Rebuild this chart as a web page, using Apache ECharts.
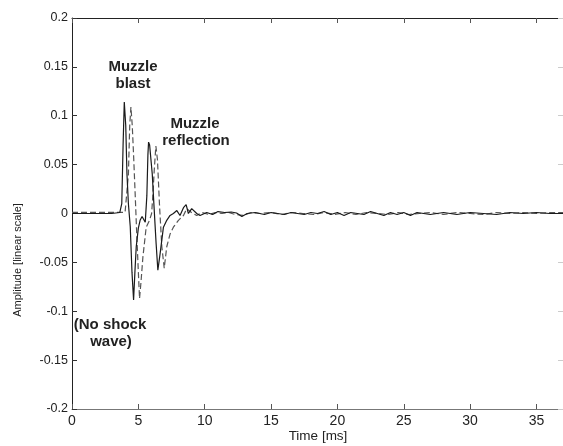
<!DOCTYPE html>
<html>
<head>
<meta charset="utf-8">
<script src="https://cdn.jsdelivr.net/npm/echarts@6/dist/echarts.min.js"></script>
<style>
html,body{margin:0;padding:0;background:#fff;}
#chart{width:563px;height:446px;}
</style>
</head>
<body>
<div id="chart"></div>
<script>
// Tick values
var xTicks = [0, 5, 10, 15, 20, 25, 30, 35];
var yTicks = [-0.2, -0.15, -0.1, -0.05, 0, 0.05, 0.1, 0.15, 0.2];

// Solid trace (time in ms, amplitude)
var timeSolid = [0, 1, 2, 3, 3.6, 3.75, 3.85, 3.94, 4.05, 4.14, 4.25, 4.39, 4.52, 4.64, 4.74, 4.84, 5.0, 5.14, 5.28, 5.39, 5.52, 5.64, 5.72, 5.77, 5.85, 5.94, 6.05, 6.14, 6.34, 6.47, 6.64, 6.89, 7.14, 7.39, 7.64, 7.9, 8.14, 8.4, 8.6, 8.77, 9.02, 9.4, 9.65, 10.15, 10.6, 11, 11.5, 12, 12.4, 12.8, 13.2, 13.8, 14.5, 15, 15.5, 16, 16.5, 17, 17.5, 18, 18.5, 19, 19.5, 20, 20.5, 21, 21.5, 22, 22.5, 23, 23.5, 24, 24.5, 25, 25.5, 26, 26.5, 27, 28, 29, 30, 31, 32, 33, 34, 35, 36, 37];
var ampSolid = [0, 0, 0, 0, 0.001, 0.01, 0.07, 0.114, 0.09, 0.041, 0.01, -0.0135, -0.06, -0.0885, -0.06, -0.034, -0.015, -0.0066, -0.003, -0.002, -0.009, 0.018, 0.06, 0.073, 0.07, 0.069, 0.04, 0.017, -0.031, -0.058, -0.041, -0.014, -0.007, -0.002, 0, 0.003, -0.002, 0.006, 0.009, 0, 0.005, 0, -0.002, 0.001, -0.001, 0.002, 0.001, 0.0015, 0.0005, -0.003, 0, 0.001, -0.001, 0.001, 0, -0.001, 0.001, 0, -0.001, 0.001, 0, 0.002, -0.001, 0.001, -0.002, 0.001, 0, -0.001, 0.002, 0, -0.002, 0.001, -0.001, 0.001, -0.002, 0.001, 0, -0.001, 0.001, -0.001, 0.001, 0, -0.001, 0.001, 0, 0.001, 0, 0];

// Dashed trace (time in ms, amplitude)
var timeDashed = [0, 1, 2, 3, 4.0, 4.14, 4.25, 4.35, 4.44, 4.54, 4.64, 4.76, 4.89, 5.0, 5.09, 5.2, 5.34, 5.59, 5.84, 6.0, 6.09, 6.2, 6.32, 6.44, 6.6, 6.77, 6.95, 7.14, 7.39, 7.64, 8.02, 8.4, 8.65, 9.0, 9.4, 9.8, 10.3, 10.8, 11.3, 11.8, 12.3, 12.9, 13.5, 14.2, 15, 15.8, 16.6, 17.4, 18.2, 19, 19.8, 20.6, 21.4, 22.2, 23, 23.8, 24.6, 25.4, 26.2, 27, 28, 29, 30, 31, 32, 33, 34, 35, 36, 37];
var ampDashed = [0.0012, 0.0012, 0.0012, 0.0012, 0.0012, 0.003, 0.04, 0.09, 0.109, 0.09, 0.06, 0.02, -0.025, -0.06, -0.087, -0.07, -0.045, -0.014, -0.007, 0.0, 0.018, 0.045, 0.069, 0.055, 0.007, -0.034, -0.056, -0.034, -0.021, -0.014, -0.007, -0.002, 0.005, 0.001, -0.002, 0.001, -0.001, 0.001, 0, 0.001, -0.001, -0.002, 0.001, 0, 0.001, -0.001, 0.001, 0, -0.001, 0.001, -0.001, 0.001, -0.001, 0.001, 0, -0.001, 0.001, -0.001, 0, 0.001, -0.001, 0.001, 0, -0.001, 0.001, 0, 0.001, 0, 0.001, 0.001];

function zip(t, a) { return t.map(function (v, i) { return [v, a[i]]; }); }
function fmtY(v) { var r = Math.round(v * 100) / 100; return String(r); }

var FONT = 'Liberation Sans, Arial, sans-serif';
var chart = echarts.init(document.getElementById('chart'), null, {renderer: 'canvas'});

chart.setOption({
  animation: false,
  backgroundColor: '#fff',
  grid: {left: 72, right: 0, top: 18, bottom: 37, containLabel: false},
  xAxis: [{
    type: 'value', min: 0, max: 37, interval: 5, position: 'bottom',
    axisLine: {show: true, onZero: false, lineStyle: {color: '#777', width: 1}},
    axisTick: {show: true, inside: true, length: 5, lineStyle: {color: '#555'}},
    axisLabel: {color: '#222', fontSize: 14, fontFamily: FONT, margin: 5, showMaxLabel: false},
    splitLine: {show: false}
  }, {
    type: 'value', min: 0, max: 37, interval: 5, position: 'top',
    axisLine: {show: true, onZero: false, lineStyle: {color: '#222', width: 1}},
    axisTick: {show: true, inside: true, length: 5, lineStyle: {color: '#555'}},
    axisLabel: {show: false}, splitLine: {show: false}
  }],
  yAxis: [{
    type: 'value', min: -0.2, max: 0.2, interval: 0.05, position: 'left',
    axisLine: {show: true, onZero: false, lineStyle: {color: '#222', width: 1}},
    axisTick: {show: true, inside: true, length: 5, lineStyle: {color: '#333'}},
    axisLabel: {color: '#222', fontSize: 12.5, fontFamily: FONT, margin: 4, formatter: fmtY},
    splitLine: {show: false}
  }, {
    type: 'value', min: -0.2, max: 0.2, interval: 0.05, position: 'right',
    axisLine: {show: true, onZero: false, lineStyle: {color: '#ddd', width: 1}},
    axisTick: {show: true, inside: true, length: 5, lineStyle: {color: '#ccc'}},
    axisLabel: {show: false}, splitLine: {show: false}
  }],
  series: [{
    type: 'line', name: 'dashed', data: zip(timeDashed, ampDashed),
    xAxisIndex: 0, yAxisIndex: 0, showSymbol: false, symbol: 'none',
    lineStyle: {color: '#555', width: 1.2, type: [6, 3]}, z: 2
  }, {
    type: 'line', name: 'solid', data: zip(timeSolid, ampSolid),
    xAxisIndex: 0, yAxisIndex: 0, showSymbol: false, symbol: 'none',
    lineStyle: {color: '#1a1a1a', width: 1.2}, z: 3
  }],
  graphic: [
    {type: 'text', x: 18, y: 260, rotation: Math.PI / 2, style: {text: 'Amplitude [linear scale]', font: '11px ' + FONT, fill: '#222', align: 'center', verticalAlign: 'middle'}},
    {type: 'text', x: 318, y: 436, style: {text: 'Time [ms]', font: '13.5px ' + FONT, fill: '#222', align: 'center', verticalAlign: 'middle'}},
    {type: 'text', x: 133, y: 67, style: {text: 'Muzzle', font: 'bold 15px ' + FONT, fill: '#222', align: 'center', verticalAlign: 'middle'}},
    {type: 'text', x: 133, y: 84, style: {text: 'blast', font: 'bold 15px ' + FONT, fill: '#222', align: 'center', verticalAlign: 'middle'}},
    {type: 'text', x: 195, y: 124, style: {text: 'Muzzle', font: 'bold 15px ' + FONT, fill: '#222', align: 'center', verticalAlign: 'middle'}},
    {type: 'text', x: 196, y: 141, style: {text: 'reflection', font: 'bold 15px ' + FONT, fill: '#222', align: 'center', verticalAlign: 'middle'}},
    {type: 'text', x: 110, y: 325, style: {text: '(No shock', font: 'bold 15px ' + FONT, fill: '#222', align: 'center', verticalAlign: 'middle'}},
    {type: 'text', x: 111, y: 342, style: {text: 'wave)', font: 'bold 15px ' + FONT, fill: '#222', align: 'center', verticalAlign: 'middle'}}
  ]
});
</script>
</body>
</html>
